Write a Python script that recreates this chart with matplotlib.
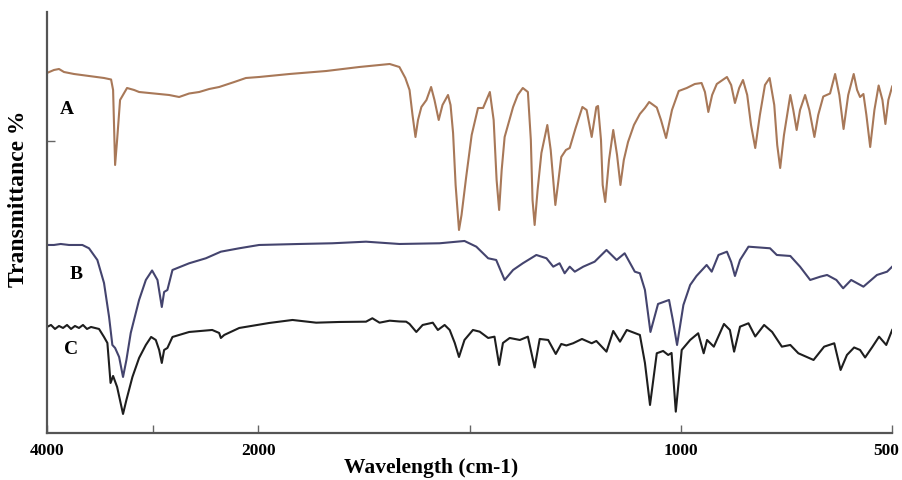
import numpy as np
import matplotlib
matplotlib.use('Agg')
import matplotlib.pyplot as plt
from matplotlib.transforms import ScaledTranslation

# FTIR spectra, wavenumber (cm-1) and transmittance (arbitrary units, stacked)
wave_a = [4000, 3934, 3886, 3839, 3744, 3602, 3460, 3393, 3374, 3355, 3336, 3308,
          3242, 3175, 3128, 3033, 2938, 2844, 2749, 2654, 2559, 2464, 2370, 2227,
          2117, 1998, 1926, 1839, 1761, 1725, 1689, 1666, 1652, 1642, 1635, 1628,
          1622, 1614, 1602, 1591, 1583, 1573, 1564, 1551, 1545, 1539, 1533, 1525,
          1519, 1508, 1495, 1480, 1468, 1452, 1443, 1436, 1430, 1424, 1417, 1397,
          1386, 1374, 1362, 1355, 1351, 1346, 1339, 1330, 1316, 1308, 1297, 1291,
          1283, 1272, 1263, 1249, 1233, 1223, 1211, 1200, 1196, 1189, 1185, 1179,
          1170, 1160, 1151, 1143, 1135, 1125, 1111, 1097, 1085, 1075, 1057, 1047,
          1035, 1021, 1005, 986, 967, 951, 943, 935, 926, 915, 891, 881, 872, 862,
          853, 843, 834, 824, 813, 801, 790, 779, 772, 765, 756, 741, 734, 726, 718,
          706, 696, 684, 675, 663, 647, 635, 625, 615, 604, 591, 583, 576, 568, 561,
          552, 542, 532, 523, 516, 509, 500]
trans_a = [360, 363, 364, 361, 359, 357, 355, 353.5, 343, 268, 293, 333,
           345, 343, 341, 340, 339, 338, 336, 339.5, 341, 344, 346, 351,
           355, 356, 359, 362, 366, 367.5, 369, 366, 355, 343, 318, 296,
           313, 326, 333, 346, 333, 313, 328, 338, 328, 300, 248, 203,
           218, 256, 298, 325, 325, 341, 313, 253, 223, 263, 296, 326,
           338, 345, 341, 293, 233, 208, 243, 280, 308, 283, 228, 248,
           276, 283, 285, 305, 326, 323, 296, 326, 327, 293, 248, 231,
           273, 303, 278, 248, 273, 291, 308, 319, 325, 331, 325.5, 313,
           295, 323, 342, 345, 349, 350, 341, 321, 338, 349, 356, 348, 330, 345,
           353, 338, 308, 285, 318, 348, 355, 328, 288, 265, 298, 338, 323, 303, 323,
           338, 323, 296, 318, 336.5, 339.5, 359, 338, 304, 338, 359, 343, 336, 339, 318,
           286, 323, 347.5, 333, 309, 333, 346.5]

wave_b = [4000, 3934, 3870, 3791, 3665, 3602, 3523, 3460, 3412, 3381, 3355, 3317,
          3280, 3248, 3207, 3128, 3064, 3005, 2954, 2913, 2891, 2860, 2812, 2654,
          2496, 2354, 2180, 1998, 1903, 1825, 1745, 1666, 1571, 1512, 1484, 1456,
          1437, 1417, 1397, 1374, 1342, 1318, 1302, 1287, 1275, 1263, 1251, 1231,
          1204, 1176, 1152, 1133, 1109, 1097, 1085, 1072, 1054, 1028, 1019, 1009,
          994, 978, 963, 939, 927, 911, 891, 881, 872, 860, 840, 789, 773, 741,
          718, 694, 670, 654, 632, 616, 597, 568, 536, 512, 500]
trans_b = [188, 188, 189, 188, 188, 184.7, 173, 150, 116, 88, 85, 76,
           56, 73, 100, 133, 153, 162.5, 153, 126, 141, 143, 163, 169.7,
           174.7, 181.3, 184.7, 188, 189, 189.7, 191.3, 189, 189.7, 192, 186.3, 174.7,
           173, 153, 163, 169.7, 178, 174.7, 166.3, 169.7, 159.7, 166.3, 161.3, 166.3,
           171.3, 183, 173, 179.7, 161.3, 159.7, 143, 101, 129, 133, 113, 88,
           128, 148, 157, 168, 161.3, 178, 181.3, 171, 157, 173, 186.3, 184.7, 178, 177,
           166.3, 153, 156.3, 158, 153, 144.7, 153, 146.3, 158, 161.3, 166.3]

wave_c = [4000, 3962, 3924, 3886, 3848, 3810, 3772, 3735, 3697, 3659, 3621, 3583,
          3507, 3460, 3428, 3398, 3374, 3336, 3280, 3248, 3191, 3128, 3064, 3014,
          2970, 2938, 2913, 2891, 2860, 2812, 2654, 2436, 2370, 2354, 2322, 2180,
          1974, 1919, 1863, 1808, 1745, 1730, 1713, 1689, 1666, 1650, 1642, 1626,
          1611, 1587, 1575, 1559, 1547, 1535, 1525, 1512, 1492, 1476, 1456, 1441,
          1430, 1421, 1405, 1381, 1362, 1346, 1334, 1314, 1296, 1283, 1271, 1255,
          1234, 1211, 1200, 1176, 1160, 1144, 1128, 1097, 1085, 1073, 1057, 1042,
          1030, 1022, 1012, 998, 978, 959, 946, 938, 922, 898, 884, 874, 860, 840,
          824, 803, 784, 761, 741, 722, 686, 661, 637, 622, 607, 590, 576, 564,
          547, 531, 514, 500]
trans_c = [106, 108, 104, 107, 105, 108, 104, 107, 105, 108, 104, 106,
           104, 96, 90, 50, 57, 46, 19, 33, 56, 75, 88, 96,
           93, 83, 70, 83, 85, 96, 101, 103, 100, 95, 98, 105,
           110, 113, 110.3, 111, 111.3, 114.7, 110.3, 112.3, 111.5, 111.3, 109, 101,
           108, 110.3, 103, 108, 103, 90, 76, 93, 103, 101.3, 95, 96.3,
           68, 90, 95, 93, 96.3, 65.5, 94, 93, 79, 89, 87.5, 89.7,
           94, 89.7, 92, 81.3, 102, 91.3, 103, 98, 70, 28, 79.7, 82,
           78, 80, 21.3, 83, 93, 99.7, 79.7, 93, 86.3, 109, 103, 81.3, 106.3, 109.7,
           96.5, 108, 101, 86.3, 88, 79.7, 73, 86.3, 89.7, 63, 78, 85.5, 83, 75.5,
           86, 96.3, 88, 103]

tick_pos = [4000, 3000, 2000, 1500, 1000, 500]
tick_text = ['4000', '', '2000', '', '1000', '500']


# the spectrometer axis is compressed 4x above 2000 cm-1
def forward(w):
    w = np.asarray(w, dtype=float)
    return np.where(w > 2000, 2000 + (w - 2000) / 4.0, w)


def inverse(u):
    u = np.asarray(u, dtype=float)
    return np.where(u > 2000, 2000 + (u - 2000) * 4.0, u)


plt.rcParams['font.family'] = ['Liberation Serif', 'DejaVu Serif']
plt.rcParams['font.weight'] = 'bold'

fig = plt.figure(figsize=(9.03, 4.80), dpi=100)
ax = fig.add_axes([0.052, 0.098, 0.936, 0.877])

ax.plot(wave_a, trans_a, color='#a87858', linewidth=1.5)
ax.plot(wave_b, trans_b, color='#44446e', linewidth=1.5)
ax.plot(wave_c, trans_c, color='#1e1e1e', linewidth=1.5)

ax.set_xscale('function', functions=(forward, inverse))
ax.set_xlim(4000, 500)
ax.set_ylim(0, 421)

ax.set_xticks(tick_pos)
ax.set_xticklabels(tick_text, fontsize=12.5, fontweight='bold')
ax.set_yticks([292])
ax.set_yticklabels([''])
ax.tick_params(axis='both', direction='in', length=6, width=1, color='#666666', pad=7)

# keep the last label ("500") inside the figure edge
last = ax.get_xticklabels()[-1]
last.set_transform(last.get_transform() + ScaledTranslation(-0.06, 0, fig.dpi_scale_trans))

for side in ['top', 'right']:
    ax.spines[side].set_visible(False)
for side in ['left', 'bottom']:
    ax.spines[side].set_color('#555555')
    ax.spines[side].set_linewidth(1.6)

ax.text(3810, 323, 'A', fontsize=14, fontweight='bold', ha='center', va='center')
ax.text(3725, 158, 'B', fontsize=14, fontweight='bold', ha='center', va='center')
ax.text(3772, 83, 'C', fontsize=14, fontweight='bold', ha='center', va='center')

fig.text(0.477, 0.025, 'Wavelength (cm-1)', fontsize=15.5, fontweight='bold',
         ha='center', va='center')
fig.text(0.02, 0.585, 'Transmittance %', fontsize=17, fontweight='bold',
         rotation=90, ha='center', va='center')

fig.savefig('out.png', dpi=100)
